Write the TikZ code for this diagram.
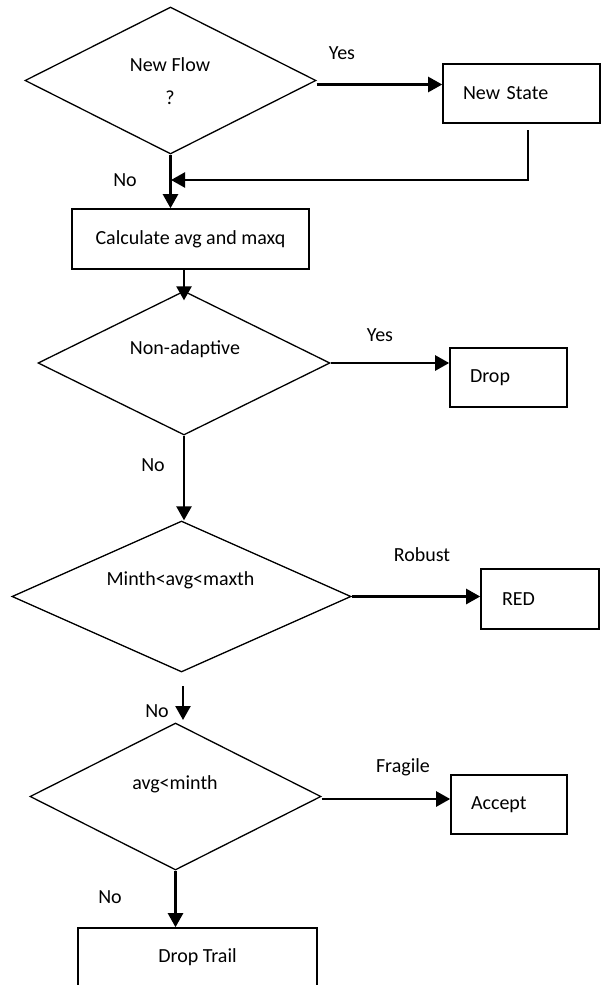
\documentclass[tikz,border=0pt]{standalone}
\usepackage{fontspec}
\setmainfont{Carlito}
\usetikzlibrary{shapes.geometric,arrows.meta}

\begin{document}
\begin{tikzpicture}[x=1pt,y=1pt]
    \tikzstyle{edge}  = [line width=2.4pt,draw=black]
    \tikzstyle{dedge} = [line width=2.4pt,-{Triangle[length=14pt,width=15pt]},draw=black]
    \tikzstyle{decision}=[
      diamond,
      draw=black,
      line width=1.3pt,
      inner sep=0pt,
    ]
    \tikzstyle{block}=[
      rectangle,
      draw=black,
      line width=1.6pt,
      inner ysep=0pt,
      font=\fontsize{20}{24}\selectfont,
    ]
    \tikzstyle{txt}=[inner sep=0pt,font=\fontsize{20}{24}\selectfont]

    \useasboundingbox (0,0) rectangle (601,-985);
    \clip (0,0) rectangle (601,-985);

    % decisions
    \node[decision,minimum width=291pt,minimum height=147pt] (newflow) at (170.5,-80.5) {};
    \node[decision,minimum width=292pt,minimum height=144pt] (nonadaptive) at (184,-363) {};
    \node[decision,minimum width=339pt,minimum height=151pt] (minmax) at (181.5,-596.5) {};
    \node[decision,minimum width=291pt,minimum height=147pt] (avgmin) at (175.5,-796.5) {};

    \node[txt,align=center,font=\fontsize{20}{33}\selectfont] (newflowtxt) at (170,-81) {New Flow\\?};
    \node[txt] (nonadaptivetxt) at (185,-349) {Non-adaptive};
    \node[txt] (minmaxtxt) at (180.5,-580) {Minth<avg<maxth};
    \node[txt] (avgmintxt) at (175,-784) {avg<minth};

    % actions
    \node[block,align=left,text width=117pt,inner xsep=20pt,minimum height=59pt] (newstate) at (521.5,-93.5) {New State};
    \node[block,align=center,minimum width=237pt,minimum height=60pt] (calc) at (190.5,-239) {Calculate avg and maxq};
    \node[block,align=left,text width=77pt,inner xsep=20pt,minimum height=59pt] (drop) at (508.5,-377.5) {Drop};
    \node[block,align=left,text width=76pt,inner xsep=21pt,minimum height=60pt] (red) at (540,-599) {RED};
    \node[block,align=left,text width=76pt,inner xsep=20pt,minimum height=59pt] (accept) at (509,-804.5) {Accept};
    \node[block,align=center,minimum width=239pt,minimum height=58pt] (droptrail) at (197.5,-957) {Drop Trail};

    % branch labels
    \node[txt] (yes1) at (342,-53) {Yes};
    \node[txt] (no1) at (125,-180) {No};
    \node[txt] (yes2) at (380,-335) {Yes};
    \node[txt] (no2) at (153,-465) {No};
    \node[txt] (robust) at (422,-555) {Robust};
    \node[txt] (no3) at (157,-711) {No};
    \node[txt] (fragile) at (403,-767) {Fragile};
    \node[txt] (no4) at (110,-897) {No};

    \coordinate (back) at (528,-130);
    \coordinate (merge) at (171,-180);
    \coordinate (n3a) at (183,-686);
    \coordinate (n3b) at (183,-720);

    \draw[dedge] ([yshift=-4pt]newflow.east) -- ([yshift=-4pt]newflow.east -| newstate.west);
    \draw[dedge] (back) |- (merge);
    \draw[dedge] (newflow.south) -- (newflow.south |- calc.north);
    \draw[dedge] (calc.south -| nonadaptive.north) -- ([yshift=-10pt]nonadaptive.north);
    \draw[dedge] (nonadaptive.east) -- (nonadaptive.east -| drop.west);
    \draw[dedge] (nonadaptive.south) -- (nonadaptive.south |- minmax.north);
    \draw[dedge] (minmax.east) -- (minmax.east -| red.west);
    \draw[dedge] (n3a) -- (n3b);
    \draw[dedge] ([yshift=-2.5pt]avgmin.east) -- ([yshift=-2.5pt]avgmin.east -| accept.west);
    \draw[dedge] (avgmin.south) -- (avgmin.south |- droptrail.north);
\end{tikzpicture}
\end{document}
